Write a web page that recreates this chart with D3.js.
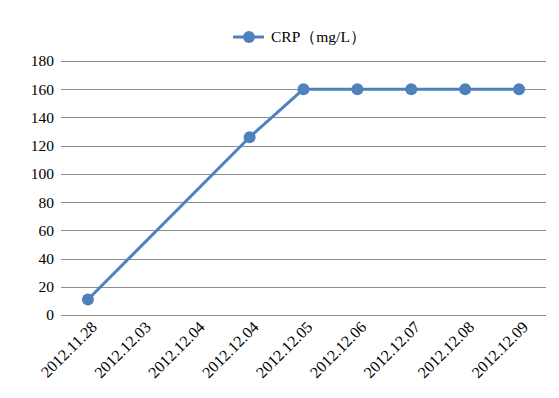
<!DOCTYPE html>
<html>
<head>
<meta charset="utf-8">
<script src="https://cdn.jsdelivr.net/npm/d3@7"></script>
<style>
  body { margin: 0; background: #fff; }
  svg text { font-family: "Liberation Serif", "Times New Roman", serif; fill: #000; }
</style>
</head>
<body>
<script>
// Chart data
const dates = ["2012.11.28", "2012.12.03", "2012.12.04", "2012.12.04", "2012.12.05",
               "2012.12.06", "2012.12.07", "2012.12.08", "2012.12.09"];
const crp = [11, null, null, 126, 160, 160, 160, 160, 160];
const yTicks = [0, 20, 40, 60, 80, 100, 120, 140, 160, 180];
const seriesName = "CRP（mg/L）";

const width = 559;
const height = 398;
const margin = { top: 61, right: 13, bottom: 83, left: 61 };
const color = "#4F81BD";

const svg = d3.select("body")
  .append("svg")
  .attr("width", width)
  .attr("height", height);

// use index as key since dates repeat
const xScale = d3.scaleBand()
  .domain(d3.range(dates.length))
  .range([margin.left, width - margin.right]);

const yScale = d3.scaleLinear()
  .domain([0, 180])
  .range([height - margin.bottom, margin.top]);

// Gridlines
svg.append("g")
  .selectAll("line")
  .data(yTicks)
  .enter()
  .append("line")
  .attr("x1", margin.left)
  .attr("x2", width - margin.right)
  .attr("y1", d => Math.round(yScale(d)) + 0.5)
  .attr("y2", d => Math.round(yScale(d)) + 0.5)
  .attr("stroke", "#8c8c8c")
  .attr("stroke-width", 1);

// Y axis labels
const yAxis = d3.axisLeft(yScale)
  .tickValues(yTicks)
  .tickSize(0)
  .tickPadding(7);

svg.append("g")
  .attr("transform", `translate(${margin.left}, 0)`)
  .call(yAxis)
  .attr("font-family", null)
  .attr("font-size", null)
  .call(g => g.select(".domain").remove())
  .call(g => g.selectAll("text")
    .style("font-size", "15.5px")
    .attr("fill", "#000"));

// X axis labels
const xAxis = d3.axisBottom(xScale)
  .tickSize(0)
  .tickFormat(i => dates[i]);

svg.append("g")
  .attr("transform", `translate(0, ${height - margin.bottom})`)
  .call(xAxis)
  .attr("font-family", null)
  .attr("font-size", null)
  .call(g => g.select(".domain").remove())
  .call(g => g.selectAll("text")
    .style("font-size", "16px")
    .attr("fill", "#000")
    .attr("text-anchor", "end")
    .attr("dy", 0)
    .attr("y", 0)
    .attr("transform", "translate(10, 13) rotate(-45)"));

// Line (connect across missing values)
const points = crp
  .map((v, i) => ({ i, v }))
  .filter(d => d.v !== null);

const line = d3.line()
  .x(d => xScale(d.i) + xScale.bandwidth() / 2)
  .y(d => yScale(d.v));

svg.append("path")
  .datum(points)
  .attr("d", line)
  .attr("fill", "none")
  .attr("stroke", color)
  .attr("stroke-width", 3)
  .attr("stroke-linejoin", "round");

svg.append("g")
  .selectAll("circle")
  .data(points)
  .enter()
  .append("circle")
  .attr("cx", d => xScale(d.i) + xScale.bandwidth() / 2)
  .attr("cy", d => yScale(d.v))
  .attr("r", 6)
  .attr("fill", color);

// Legend
const legend = svg.append("g")
  .attr("transform", "translate(233, 37)");

legend.append("line")
  .attr("x1", 0)
  .attr("x2", 31)
  .attr("stroke", color)
  .attr("stroke-width", 3);

legend.append("circle")
  .attr("cx", 16)
  .attr("r", 6)
  .attr("fill", color);

legend.append("text")
  .attr("x", 38)
  .attr("y", 5)
  .style("font-size", "15.5px")
  .text(seriesName);
</script>
</body>
</html>
